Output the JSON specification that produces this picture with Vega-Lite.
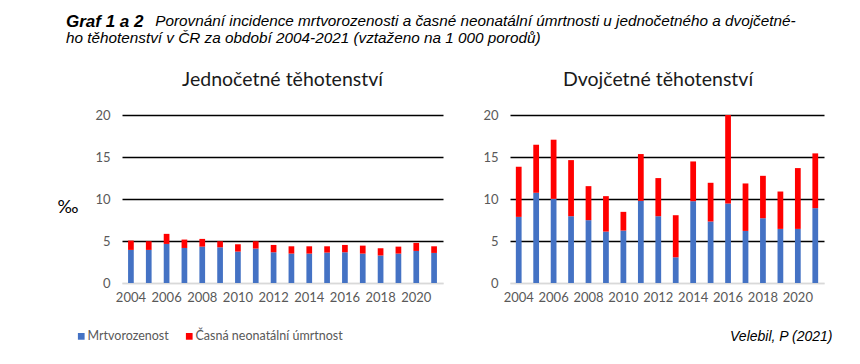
{
  "$schema": "https://vega.github.io/schema/vega-lite/v6.json",
  "background": "white",
  "padding": {"left": 57, "top": 13, "right": 5, "bottom": 5},
  "title": {
    "text": "Graf 1 a 2",
    "subtitle": ["\u200b\u00a0\u00a0\u00a0\u00a0\u00a0\u00a0\u00a0\u00a0\u00a0\u00a0\u00a0\u00a0\u00a0\u00a0\u00a0\u00a0\u00a0\u00a0\u00a0\u00a0\u00a0Porovnání incidence mrtvorozenosti a časné neonatální úmrtnosti u jednočetného a dvojčetné-", "ho těhotenství v ČR za období 2004-2021 (vztaženo na 1 000 porodů)"],
    "anchor": "start",
    "frame": "bounds",
    "dx": 9,
    "font": "Liberation Sans",
    "fontSize": 17,
    "fontStyle": "italic",
    "fontWeight": "bold",
    "color": "#000000",
    "subtitleFont": "Liberation Sans",
    "subtitleFontSize": 15.3,
    "subtitleFontStyle": "italic",
    "subtitleColor": "#000000",
    "subtitlePadding": -17,
    "subtitleLineHeight": 17,
    "offset": 22
  },
  "datasets": {
    "rows": [
      {"panel": "J", "year": "2004", "Mrtvorozenost": 3.94, "Časná neonatální úmrtnost": 1.11},
      {"panel": "J", "year": "2005", "Mrtvorozenost": 3.94, "Časná neonatální úmrtnost": 1.03},
      {"panel": "J", "year": "2006", "Mrtvorozenost": 4.65, "Časná neonatální úmrtnost": 1.2},
      {"panel": "J", "year": "2007", "Mrtvorozenost": 4.17, "Časná neonatální úmrtnost": 1.0},
      {"panel": "J", "year": "2008", "Mrtvorozenost": 4.33, "Časná neonatální úmrtnost": 0.92},
      {"panel": "J", "year": "2009", "Mrtvorozenost": 4.25, "Časná neonatální úmrtnost": 0.72},
      {"panel": "J", "year": "2010", "Mrtvorozenost": 3.74, "Časná neonatální úmrtnost": 0.87},
      {"panel": "J", "year": "2011", "Mrtvorozenost": 4.1, "Časná neonatální úmrtnost": 0.87},
      {"panel": "J", "year": "2012", "Mrtvorozenost": 3.66, "Časná neonatální úmrtnost": 0.87},
      {"panel": "J", "year": "2013", "Mrtvorozenost": 3.5, "Časná neonatální úmrtnost": 0.87},
      {"panel": "J", "year": "2014", "Mrtvorozenost": 3.5, "Časná neonatální úmrtnost": 0.87},
      {"panel": "J", "year": "2015", "Mrtvorozenost": 3.62, "Časná neonatální úmrtnost": 0.75},
      {"panel": "J", "year": "2016", "Mrtvorozenost": 3.66, "Časná neonatální úmrtnost": 0.87},
      {"panel": "J", "year": "2017", "Mrtvorozenost": 3.5, "Časná neonatální úmrtnost": 0.95},
      {"panel": "J", "year": "2018", "Mrtvorozenost": 3.26, "Časná neonatální úmrtnost": 0.87},
      {"panel": "J", "year": "2019", "Mrtvorozenost": 3.5, "Časná neonatální úmrtnost": 0.83},
      {"panel": "J", "year": "2020", "Mrtvorozenost": 3.82, "Časná neonatální úmrtnost": 0.95},
      {"panel": "J", "year": "2021", "Mrtvorozenost": 3.58, "Časná neonatální úmrtnost": 0.79},
      {"panel": "D", "year": "2004", "Mrtvorozenost": 7.87, "Časná neonatální úmrtnost": 5.97},
      {"panel": "D", "year": "2005", "Mrtvorozenost": 10.74, "Časná neonatální úmrtnost": 5.72},
      {"panel": "D", "year": "2006", "Mrtvorozenost": 10.02, "Časná neonatální úmrtnost": 7.04},
      {"panel": "D", "year": "2007", "Mrtvorozenost": 7.95, "Časná neonatální úmrtnost": 6.68},
      {"panel": "D", "year": "2008", "Mrtvorozenost": 7.48, "Časná neonatální úmrtnost": 4.05},
      {"panel": "D", "year": "2009", "Mrtvorozenost": 6.12, "Časná neonatální úmrtnost": 4.22},
      {"panel": "D", "year": "2010", "Mrtvorozenost": 6.24, "Časná neonatální úmrtnost": 2.23},
      {"panel": "D", "year": "2011", "Mrtvorozenost": 9.78, "Časná neonatální úmrtnost": 5.57},
      {"panel": "D", "year": "2012", "Mrtvorozenost": 7.95, "Časná neonatální úmrtnost": 4.54},
      {"panel": "D", "year": "2013", "Mrtvorozenost": 3.06, "Časná neonatální úmrtnost": 5.01},
      {"panel": "D", "year": "2014", "Mrtvorozenost": 9.74, "Časná neonatální úmrtnost": 4.73},
      {"panel": "D", "year": "2015", "Mrtvorozenost": 7.32, "Časná neonatální úmrtnost": 4.61},
      {"panel": "D", "year": "2016", "Mrtvorozenost": 9.46, "Časná neonatální úmrtnost": 10.54},
      {"panel": "D", "year": "2017", "Mrtvorozenost": 6.2, "Časná neonatální úmrtnost": 5.65},
      {"panel": "D", "year": "2018", "Mrtvorozenost": 7.71, "Časná neonatální úmrtnost": 5.05},
      {"panel": "D", "year": "2019", "Mrtvorozenost": 6.44, "Časná neonatální úmrtnost": 4.45},
      {"panel": "D", "year": "2020", "Mrtvorozenost": 6.44, "Časná neonatální úmrtnost": 7.24},
      {"panel": "D", "year": "2021", "Mrtvorozenost": 8.91, "Časná neonatální úmrtnost": 6.52}
    ]
  },
  "config": {
    "view": {"stroke": null},
    "axis": {
      "labelFont": "Lato",
      "labelFontSize": 13,
      "labelColor": "#595959",
      "ticks": false
    },
    "axisY": {
      "domain": false,
      "grid": true,
      "gridColor": {"condition": {"test": "datum.value === 0", "value": "#d9d9d9"}, "value": "#000000"},
      "gridWidth": 1.5,
      "labelPadding": 12,
      "values": [0, 5, 10, 15, 20]
    },
    "axisX": {
      "domainColor": "#d9d9d9",
      "domainWidth": 1.5,
      "labelAngle": 0,
      "labelPadding": 8,
      "grid": false
    },
    "legend": {
      "orient": "none",
      "direction": "horizontal",
      "legendX": -47,
      "legendY": 215,
      "title": null,
      "symbolType": "square",
      "symbolSize": 45,
      "symbolStrokeWidth": 0,
      "labelFont": "Lato",
      "labelFontSize": 12.5,
      "labelColor": "#595959",
      "columnPadding": 14,
      "labelOffset": 0
    }
  },
  "spacing": 67,
  "bounds": "flush",
  "hconcat": [
    {
      "width": 321,
      "height": 168,
      "title": {"text": "Jednočetné těhotenství", "font": "Lato", "fontSize": 19.5, "fontWeight": "normal", "color": "#1a1a1a", "frame": "group", "anchor": "middle", "offset": 19},
      "data": {"name": "rows"},
      "transform": [
        {"filter": "datum.panel === 'J'"},
        {"fold": ["Mrtvorozenost", "Časná neonatální úmrtnost"], "as": ["type", "value"]}
      ],
      "mark": {"type": "bar"},
      "encoding": {
        "x": {"field": "year", "type": "ordinal", "scale": {"paddingInner": 0.68, "paddingOuter": 0.34},
              "axis": {"title": null, "labelExpr": "parseInt(datum.value) % 2 === 0 ? datum.value : ''"}},
        "y": {"field": "value", "type": "quantitative", "stack": "zero", "scale": {"domain": [0, 20]},
              "axis": {"title": "‰", "titleAngle": 0, "titleFont": "Lato", "titleFontSize": 18, "titleFontWeight": "normal", "titleColor": "#000000", "titleX": -65, "titleY": 92, "titleAlign": "left", "titleBaseline": "middle"}},
        "color": {"field": "type", "type": "nominal",
                  "scale": {"domain": ["Mrtvorozenost", "Časná neonatální úmrtnost"], "range": ["#4472C4", "#FF0000"]},
                  "sort": ["Mrtvorozenost", "Časná neonatální úmrtnost"]},
        "order": {"field": "type", "sort": "ascending"}
      }
    },
    {
      "width": 314,
      "height": 168,
      "title": {"text": "Dvojčetné těhotenství", "font": "Lato", "fontSize": 19.5, "fontWeight": "normal", "color": "#1a1a1a", "frame": "group", "anchor": "middle", "offset": 19, "dx": -9},
      "data": {"name": "rows"},
      "transform": [
        {"filter": "datum.panel === 'D'"},
        {"fold": ["Mrtvorozenost", "Časná neonatální úmrtnost"], "as": ["type", "value"]}
      ],
      "mark": {"type": "bar"},
      "encoding": {
        "x": {"field": "year", "type": "ordinal", "scale": {"paddingInner": 0.67, "paddingOuter": 0.335},
              "axis": {"title": "Velebil, P (2021)", "titleFont": "Liberation Sans", "titleFontSize": 14, "titleFontStyle": "italic", "titleFontWeight": "normal", "titleColor": "#000000", "titleAnchor": "end", "titleAlign": "right", "titleX": 322, "titleY": 57, "titleBaseline": "alphabetic",
                       "labelExpr": "parseInt(datum.value) % 2 === 0 ? datum.value : ''"}},
        "y": {"field": "value", "type": "quantitative", "stack": "zero", "scale": {"domain": [0, 20]},
              "axis": {"title": null}},
        "color": {"field": "type", "type": "nominal",
                  "scale": {"domain": ["Mrtvorozenost", "Časná neonatální úmrtnost"], "range": ["#4472C4", "#FF0000"]},
                  "sort": ["Mrtvorozenost", "Časná neonatální úmrtnost"]},
        "order": {"field": "type", "sort": "ascending"}
      }
    }
  ]
}
